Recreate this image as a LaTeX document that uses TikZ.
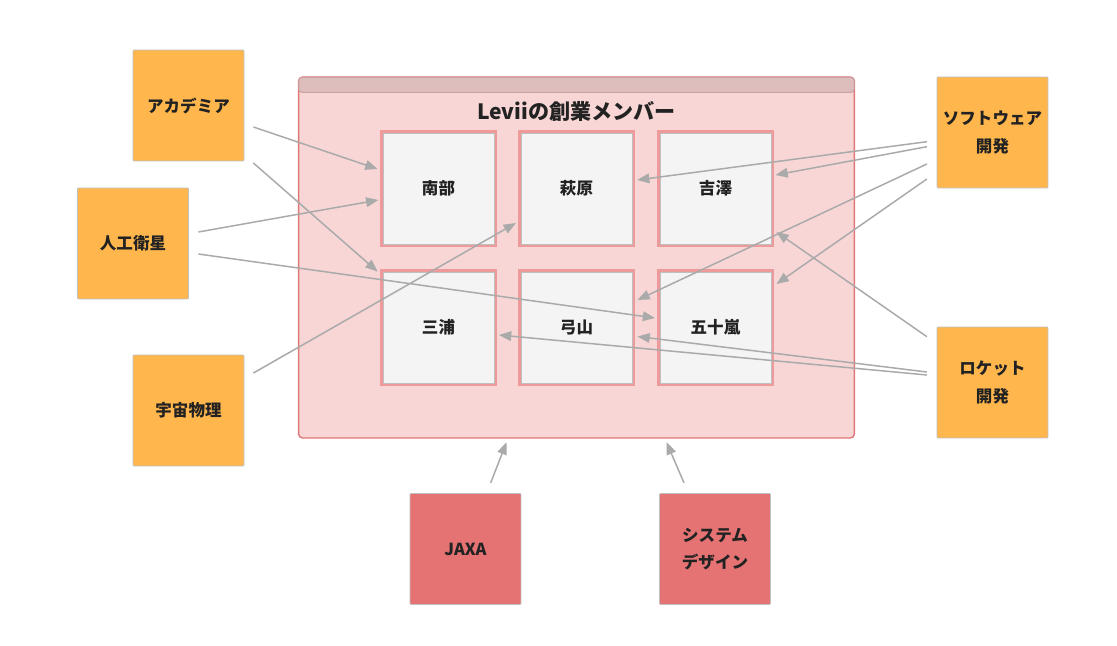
\documentclass[tikz,border=0pt]{standalone}
\usepackage{fontspec}
\setmainfont{Noto Sans CJK JP}
\usetikzlibrary{arrows.meta,calc}

\definecolor{topicorange}{HTML}{FFB74D}
\definecolor{orgred}{HTML}{E57373}
\definecolor{groupfill}{HTML}{F8D6D6}
\definecolor{groupline}{HTML}{E07676}
\definecolor{grouphead}{HTML}{DEBDBD}
\definecolor{headline}{HTML}{C9A3A3}
\definecolor{memberpink}{HTML}{EE9A9A}
\definecolor{memberfill}{HTML}{F4F4F4}
\definecolor{linkgrey}{HTML}{AAAAAA}
\definecolor{txt}{HTML}{222222}

\tikzset{
  labelfont/.style={font=\fontsize{9.4}{15.5}\selectfont\bfseries, text=txt},
  topic/.style={draw=black!25, line width=0.5pt, fill=topicorange,
    minimum width=2.22cm, minimum height=2.22cm, align=center,
    rounded corners=0.5pt, labelfont},
  org/.style={topic, fill=orgred},
  member/.style={draw=black!25, line width=0.5pt, fill=memberfill,
    minimum width=2.22cm, minimum height=2.22cm, labelfont,
    preaction={draw=memberpink, line width=3.4pt}},
  group/.style={draw=groupline, line width=0.8pt, fill=groupfill,
    minimum width=11.12cm, minimum height=7.22cm, rounded corners=2.3pt},
  link/.style={draw=linkgrey, line width=0.85pt,
    -{Triangle[length=7pt,width=5.5pt]}},
}

\begin{document}
\begin{tikzpicture}[x=0.02cm, y=-0.02cm]
\useasboundingbox (0,0) rectangle (1117,646);

% founding members
\node[group] (team) at (576.5,257.5) {};
\draw[headline, fill=grouphead, line width=0.6pt, rounded corners=1.8pt]
  ($(team.north west)+(1,1)$) rectangle ($(team.north east)+(-1,16)$);
\node[font=\fontsize{12}{14}\selectfont\bfseries, text=txt] (teamtitle) at (576.5,111.5) {Leviiの創業メンバー};

\node[member] (nanbu) at (438.5,188.5) {南部};
\node[member] (hagiwara) at (576.5,188.5) {萩原};
\node[member] (yoshizawa) at (715.5,188.5) {吉澤};
\node[member] (miura) at (438.5,327.5) {三浦};
\node[member] (yumiyama) at (576.5,327.5) {弓山};
\node[member] (igarashi) at (715.5,327.5) {五十嵐};

% backgrounds
\node[topic] (aca) at (188.5,105.5) {アカデミア};
\node[topic] (sat) at (133,243.5) {人工衛星};
\node[topic] (astro) at (188.5,410.5) {宇宙物理};
\node[topic] (soft) at (992.5,132.5) {ソフトウェア\\開発};
\node[topic] (rocket) at (992.5,382.5) {ロケット\\開発};
\node[org] (jaxa) at (465.5,549) {JAXA};
\node[org] (sysd) at (715,549) {システム\\デザイン};

\draw[link] ($(aca.east)+(9,21.5)$) -- ($(nanbu.west)+(-5,-19.5)$);
\draw[link] ($(aca.east)+(9,57.5)$) -- ($(miura.north west)+(-5,0)$);
\draw[link] ($(sat.east)+(9.5,-11.5)$) -- ($(nanbu.west)+(-4.2,11.5)$);
\draw[link] ($(sat.east)+(9.5,10.5)$) -- ($(igarashi.west)+(-4.5,-9.5)$);
\draw[link] ($(astro.east)+(9,-37.5)$) -- ($(hagiwara.west)+(-4.6,34.5)$);

\draw[link] ($(soft.west)+(-9.7,9.2)$) -- ($(hagiwara.east)+(4.7,-8.5)$);
\draw[link] ($(soft.west)+(-9.7,14.2)$) -- ($(yoshizawa.east)+(4,-13.5)$);
\draw[link] ($(soft.west)+(-9.7,31.5)$) -- ($(yumiyama.east)+(5,-27.5)$);
\draw[link] ($(soft.west)+(-9.7,46.5)$) -- ($(igarashi.east)+(5,-43.5)$);

\draw[link] ($(rocket.west)+(-9.7,-45.8)$) -- ($(yoshizawa.east)+(5,43.5)$);
\draw[link] ($(rocket.west)+(-9.7,-10.5)$) -- ($(yumiyama.east)+(5,9)$);
\draw[link] ($(rocket.west)+(-9.7,-7.5)$) -- ($(miura.east)+(4.5,7.5)$);

\draw[link] ($(jaxa.north)+(25.2,-10.2)$) -- ($(team.south)+(-70,3.5)$);
\draw[link] ($(sysd.north)+(-31,-10.2)$) -- ($(team.south)+(90,3.5)$);
\end{tikzpicture}
\end{document}
